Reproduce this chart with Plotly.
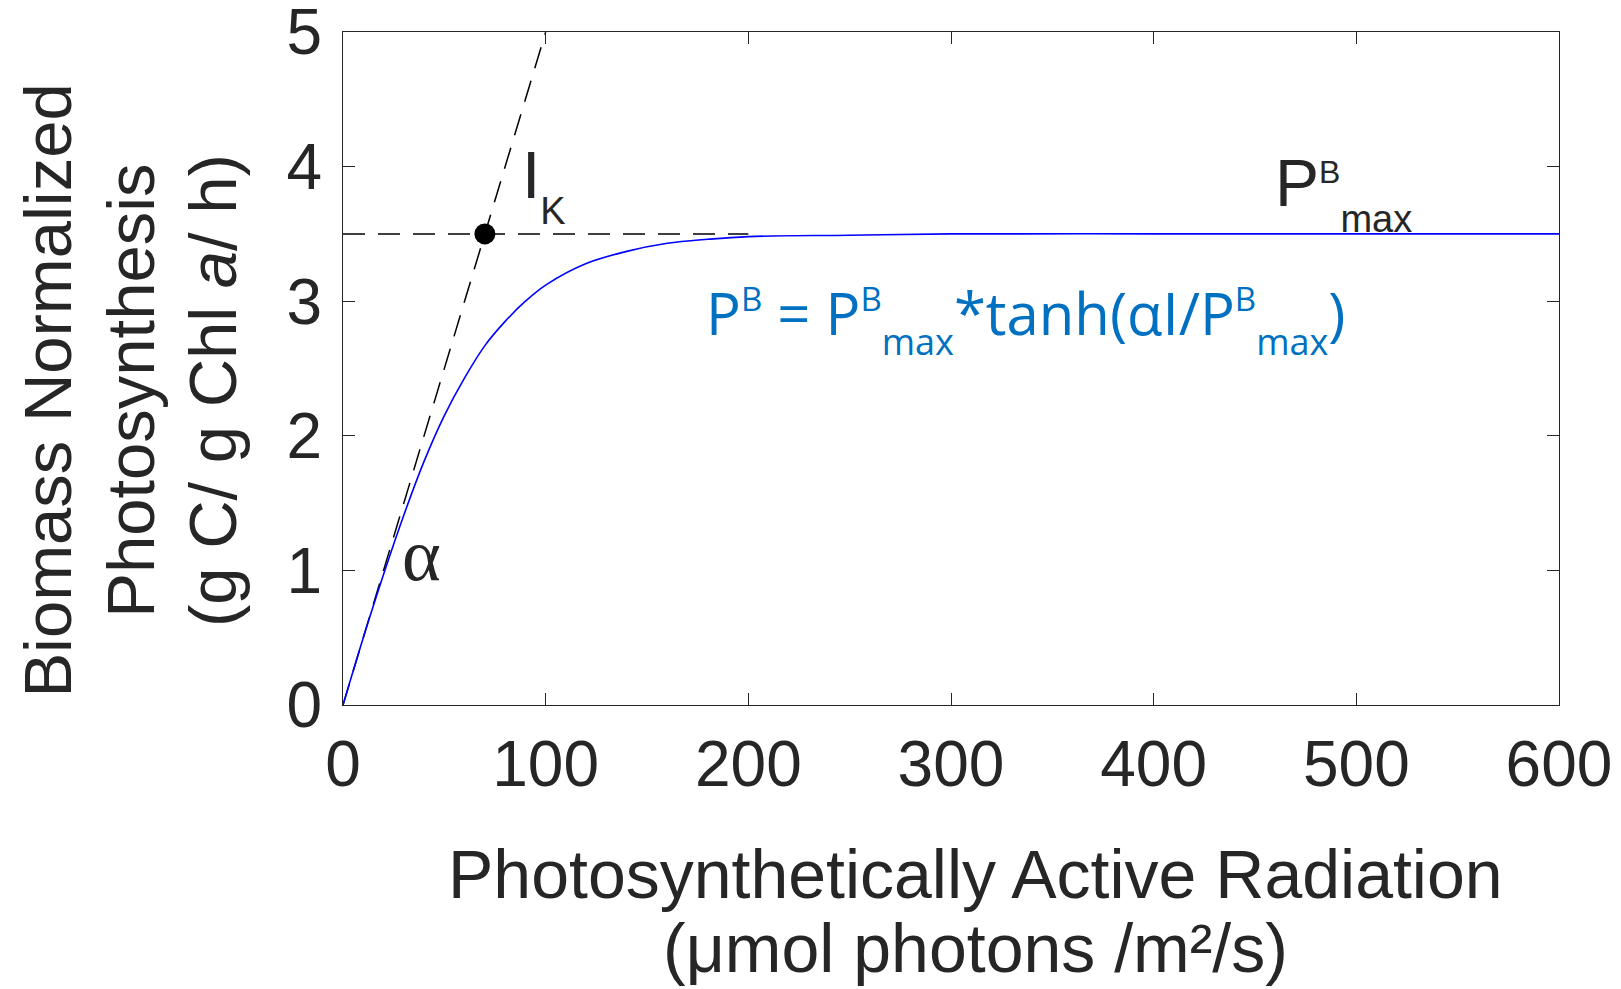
import plotly.graph_objects as go

par = [0, 10, 20, 30, 40, 50, 60, 70, 80, 90, 100, 120, 140, 160, 180, 200, 250, 300, 400, 500, 600]
pb = [0.0, 0.50, 0.97, 1.41, 1.81, 2.15, 2.43, 2.67, 2.85, 3.00, 3.12, 3.28, 3.37, 3.43, 3.46, 3.48, 3.49, 3.50, 3.50, 3.50, 3.50]

# Initial slope (alpha) line
alpha_x = [0, 100]
alpha_y = [0, 5]

# Pmax line
pmax_x = [0, 200]
pmax_y = [3.5, 3.5]

# Ik point
ik_x = [70]
ik_y = [3.5]

x_ticks = [0, 100, 200, 300, 400, 500, 600]
y_ticks = [0, 1, 2, 3, 4, 5]

x_title_lines = ["Photosynthetically Active Radiation", "(\u03bcmol photons /m\u00b2/s)"]
y_title_lines = ["Biomass Normalized", "Photosynthesis", "(g C/ g Chl <i>a</i>/ h)"]

TXT = "#262626"
AX = "#262626"
FONT = "Liberation Sans, Arial, sans-serif"
BLUE_TXT = "#0070C0"

fig = go.Figure()
fig.add_trace(go.Scatter(x=alpha_x, y=alpha_y, mode="lines",
                         line=dict(color="black", width=1.5, dash="22px,13px"),
                         showlegend=False, hoverinfo="skip"))
fig.add_trace(go.Scatter(x=pmax_x, y=pmax_y, mode="lines",
                         line=dict(color="black", width=1.5, dash="22px,13px"),
                         showlegend=False, hoverinfo="skip"))
fig.add_trace(go.Scatter(x=par, y=pb, mode="lines", line_shape="spline",
                         line=dict(color="#0000FF", width=1.6),
                         showlegend=False))
fig.add_trace(go.Scatter(x=ik_x, y=ik_y, mode="markers",
                         marker=dict(color="black", size=21),
                         showlegend=False))

axis_common = dict(
    showline=True, linecolor=AX, linewidth=1.3, mirror="ticks",
    ticks="inside", ticklen=12, tickwidth=1.3, tickcolor=AX,
    showgrid=False, zeroline=False, automargin=False,
    ticklabeloverflow="allow",
    tickfont=dict(family=FONT, size=64, color=TXT),
)

fig.update_layout(
    width=1621, height=989,
    margin=dict(l=335, r=70, t=24, b=292, autoexpand=False),
    plot_bgcolor="white", paper_bgcolor="white",
    xaxis=dict(range=[0, 600], tickvals=x_ticks, ticklabelstandoff=3, **axis_common),
    yaxis=dict(range=[0, 5], tickvals=y_ticks, ticklabelstandoff=7, **axis_common),
)

# Axis titles (MATLAB-style tight line spacing)
for txt, yp in zip(x_title_lines, [-0.2505, -0.3618]):
    fig.add_annotation(x=0.520, y=yp, xref="paper", yref="paper",
                       xanchor="center", yanchor="middle", text=txt, showarrow=False,
                       font=dict(family=FONT, size=68, color=TXT))
for txt, xp in zip(y_title_lines, [-0.2429, -0.1745, -0.1069]):
    fig.add_annotation(x=xp, y=0.4666, xref="paper", yref="paper", textangle=-90,
                       xanchor="center", yanchor="middle", text=txt, showarrow=False,
                       font=dict(family=FONT, size=67, color=TXT))

fig.add_annotation(x=87.5, y=3.866, xref="x", yref="y", xanchor="left", yanchor="middle",
                   text="I<sub><span style='font-size:38px;baseline-shift:-12px'>K</span></sub>",
                   showarrow=False, font=dict(family=FONT, size=66, color=TXT))
fig.add_annotation(x=459, y=3.807, xref="x", yref="y", xanchor="left", yanchor="middle",
                   text="P<sup><span style='font-size:32px;baseline-shift:-5px'>B</span></sup>"
                        "<sub><span style='font-size:38px;baseline-shift:-12px'>max</span></sub>",
                   showarrow=False, font=dict(family=FONT, size=66, color=TXT))
SUP = "<sup><span style='font-size:33px'>B</span></sup>"
SUB = "<sub><span style='font-size:36px;baseline-shift:-8px'>max</span></sub>"
fig.add_annotation(x=178, y=2.865, xref="x", yref="y", xanchor="left", yanchor="middle",
                   text="P" + SUP + " = P" + SUP + SUB + "*tanh(\u03b1I/P" + SUP + SUB + ")",
                   showarrow=False,
                   font=dict(family="Open Sans, sans-serif", size=58, color=BLUE_TXT))
fig.add_annotation(x=38.5, y=1.115, xref="x", yref="y", xanchor="center", yanchor="middle",
                   text="\u03b1", showarrow=False,
                   font=dict(family="Liberation Serif, Times New Roman, serif", size=74, color=TXT))

fig.write_html("out.html")
